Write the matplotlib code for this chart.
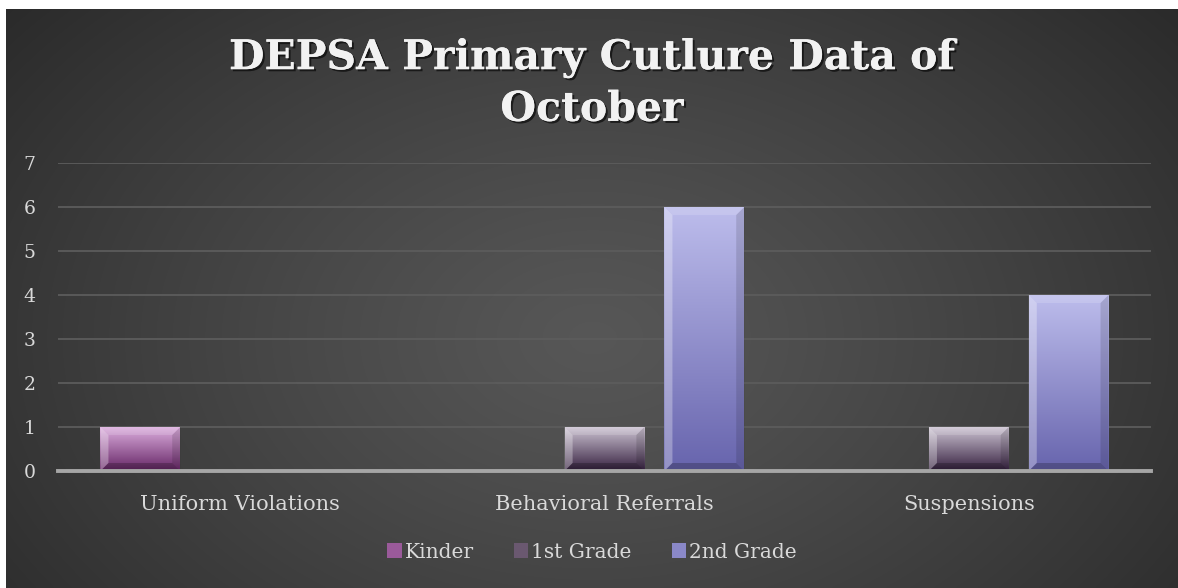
import numpy as np
import matplotlib
matplotlib.use("Agg")
import matplotlib.pyplot as plt
from matplotlib.patches import Polygon, Patch
import matplotlib.patheffects as pe
from matplotlib.colors import LinearSegmentedColormap

categories = ["Uniform Violations", "Behavioral Referrals", "Suspensions"]
series_names = ["Kinder", "1st Grade", "2nd Grade"]
kinder = [1, 0, 0]
first_grade = [0, 1, 1]
second_grade = [0, 6, 4]
yticks = [0, 1, 2, 3, 4, 5, 6, 7]
title = "DEPSA Primary Cutlure Data of\nOctober"

# top (light) / bottom (dark) colours of each series
top_colors = ["#dcaede", "#cdc4d3", "#bdbdec"]
bot_colors = ["#652565", "#35203f", "#6764ad"]
legend_colors = ["#9a5a9a", "#6a5870", "#8a88c8"]

W, H, DPI = 1178, 588, 100
fig = plt.figure(figsize=(W / DPI, H / DPI), dpi=DPI)
fig.patch.set_facecolor("white")

# background with radial gradient
bx0, by1 = 6, 9
bg = fig.add_axes([bx0 / W, 0, 1 - bx0 / W, (H - by1) / H])
bg.set_axis_off()
yy, xx = np.mgrid[0:300, 0:600]
cx, cy = 300, 170
r = np.sqrt(((xx - cx) / 420.0) ** 2 + ((yy - cy) / 290.0) ** 2)
r = np.clip(r, 0, 1)
v = 0.34 - (0.34 - 0.15) * r ** 1.2
img = np.dstack([v, v, v])
bg.imshow(img, aspect="auto", extent=[0, 1, 0, 1], interpolation="bilinear")
bg.set_xlim(0, 1)
bg.set_ylim(0, 1)

# main axes
ax_l, ax_r, ax_t, ax_b = 58, 1151, 163, 471
ax = fig.add_axes([ax_l / W, 1 - ax_b / H, (ax_r - ax_l) / W, (ax_b - ax_t) / H])
ax.patch.set_alpha(0)
ax.set_xlim(-0.5, 2.5)
ax.set_ylim(0, 7)
ax.set_yticks(yticks)
ax.set_yticklabels([str(t) for t in yticks])
ax.yaxis.grid(True, color="#5c5c5c", linewidth=1.3)
ax.set_axisbelow(True)
for s in ["top", "right", "left"]:
    ax.spines[s].set_visible(False)
ax.spines["bottom"].set_color("#a6a6a6")
ax.spines["bottom"].set_linewidth(2.8)
ax.spines["bottom"].set_zorder(5)
ax.tick_params(axis="both", length=0, colors="#d9d9d9")
ax.tick_params(axis="y", pad=16, labelsize=13.5)
ax.tick_params(axis="x", pad=17, labelsize=15)
ax.set_xticks(range(len(categories)))
ax.set_xticklabels(categories)
for lab in ax.get_xticklabels() + ax.get_yticklabels():
    lab.set_fontfamily("DejaVu Serif")
    lab.set_color("#d9d9d9")

x = np.arange(len(categories))
offsets = [-0.274, 0.0, 0.274]
bw = 0.219
axw_px = ax_r - ax_l
axh_px = ax_b - ax_t
bev_px = 8
dx = bev_px * 3.0 / axw_px
dy = bev_px * 7.0 / axh_px

for vals, off, tc, bc in zip([kinder, first_grade, second_grade], offsets, top_colors, bot_colors):
    bars = ax.bar(x + off, vals, bw, color="none", edgecolor="none", zorder=3)
    cmap = LinearSegmentedColormap.from_list("g", [bc, tc])
    for b in bars:
        h = b.get_height()
        if h <= 0:
            continue
        x0 = b.get_x()
        x1 = x0 + b.get_width()
        grad = np.linspace(0, 1, 256).reshape(-1, 1)
        im = ax.imshow(grad, cmap=cmap, aspect="auto", origin="lower",
                       extent=[x0, x1, 0, h], zorder=3, interpolation="bilinear")
        im.set_clip_path(b)
        ddy = min(dy, h / 2)
        # bevels
        ax.add_patch(Polygon([[x0, 0], [x0 + dx, ddy], [x0 + dx, h - ddy], [x0, h]],
                             closed=True, facecolor="white", alpha=0.30, edgecolor="none", zorder=4))
        ax.add_patch(Polygon([[x0, h], [x0 + dx, h - ddy], [x1 - dx, h - ddy], [x1, h]],
                             closed=True, facecolor="white", alpha=0.15, edgecolor="none", zorder=4))
        ax.add_patch(Polygon([[x1, 0], [x1 - dx, ddy], [x1 - dx, h - ddy], [x1, h]],
                             closed=True, facecolor="black", alpha=0.12, edgecolor="none", zorder=4))
        ax.add_patch(Polygon([[x0, 0], [x0 + dx, ddy], [x1 - dx, ddy], [x1, 0]],
                             closed=True, facecolor="black", alpha=0.22, edgecolor="none", zorder=4))

ax.set_xlim(-0.5, 2.5)
ax.set_ylim(0, 7)

# title
fig.text(0.5 + 3 / W, 1 - 84 / H, title, ha="center", va="center", fontsize=29.5,
         fontfamily="DejaVu Serif", fontweight="bold", color="#f2f2f2",
         linespacing=1.36,
         path_effects=[pe.withSimplePatchShadow(offset=(1.5, -1.5), shadow_rgbFace="black", alpha=0.6),
                       pe.Normal()])

# legend
handles = [Patch(facecolor=c, edgecolor="none", label=n) for c, n in zip(legend_colors, series_names)]
leg = fig.legend(handles=handles, loc="center", bbox_to_anchor=(592 / W, 1 - 552 / H), ncol=3,
                 frameon=False, handlelength=0.7, handleheight=0.7,
                 handletextpad=0.15, columnspacing=2.0,
                 prop={"family": "DejaVu Serif", "size": 14.5})
for t in leg.get_texts():
    t.set_color("#d9d9d9")

fig.savefig("out.png", dpi=DPI, facecolor=fig.get_facecolor())
